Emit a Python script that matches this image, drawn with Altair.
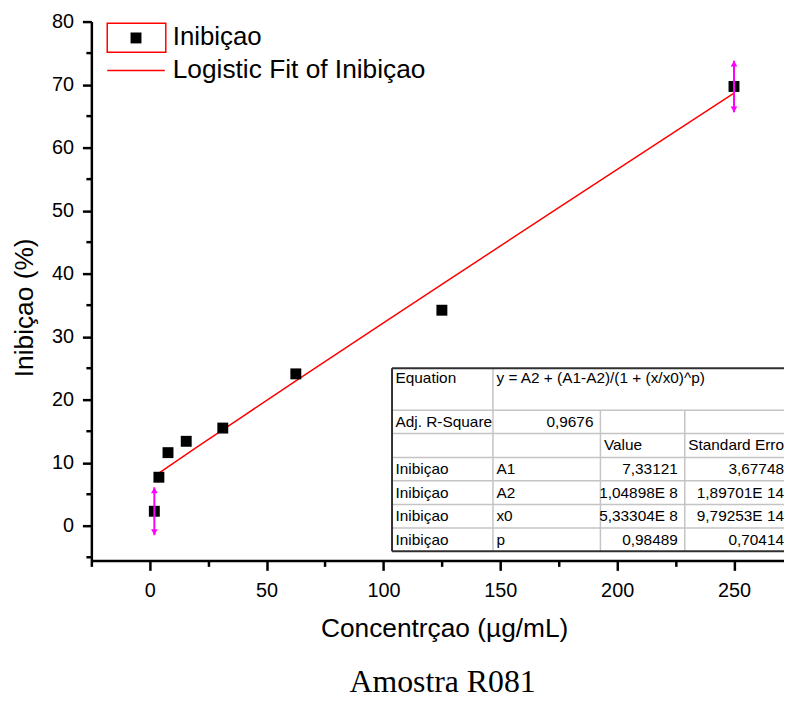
import altair as alt
import pandas as pd

# ---------------- data ----------------
conc = [1.95, 3.9, 7.8, 15.6, 31.25, 62.5, 125, 250]
inib = [2.3, 7.7, 11.6, 13.4, 15.5, 24.1, 34.2, 69.7]
inib_err = [3.8, 0, 0, 0, 0, 0, 0, 4.1]

fit_x = [1.95, 3.9, 10, 20, 40, 62.5, 100, 125, 175, 250]
fit_y = [7.85, 8.35, 9.91, 12.43, 17.41, 22.98, 32.19, 38.30, 50.48, 68.63]

x_ticks = [-25, 0, 25, 50, 75, 100, 125, 150, 175, 200, 225, 250]
y_major = [0, 10, 20, 30, 40, 50, 60, 70, 80]
y_minor = [-5, 5, 15, 25, 35, 45, 55, 65, 75]
x_domain = [-25, 271.4]
y_domain = [-5.5, 80]

series_name = "Inibiçao"
fit_name = "Logistic Fit of Inibiçao"
x_title = "Concentrçao (µg/mL)"
y_title = "Inibiçao (%)"
caption = "Amostra R081"

table_rows = [
    ["Equation", "y = A2 + (A1-A2)/(1 + (x/x0)^p)", "", ""],
    ["Adj. R-Square", "0,9676", "", ""],
    ["", "", "Value", "Standard Error"],
    ["Inibiçao", "A1", "7,33121", "3,67748"],
    ["Inibiçao", "A2", "1,04898E 8", "1,89701E 14"],
    ["Inibiçao", "x0", "5,33304E 8", "9,79253E 14"],
    ["Inibiçao", "p", "0,98489", "0,70414"],
]

# ---------------- layout ----------------
W, H = 698, 543
FONT = "Liberation Sans"
TCOL = [303, 404.7, 513, 598, 705]
TROW = [349.3, 391.7, 415, 439.3, 462.7, 486.7, 510.3, 533.7]
RED = "#ff0000"
MAG = "#ff00ff"

pts = pd.DataFrame({"conc": conc, "inib": inib, "err": inib_err})
fit = pd.DataFrame({"conc": fit_x, "inib": fit_y})
one = pd.DataFrame({"a": [0]})
ymin_df = pd.DataFrame({"v": y_minor})

xs = alt.Scale(domain=x_domain, nice=False, zero=False)
ys = alt.Scale(domain=y_domain, nice=False, zero=False)

x_axis = alt.Axis(
    values=x_ticks,
    labelExpr="datum.value % 50 === 0 ? datum.label : ''",
    tickSize={"condition": {"test": "datum.value % 50 === 0", "value": 10}, "value": 6},
    labelOverlap=False, labelFlush=False,
    labelPadding=10, labelFontSize=20, labelFont=FONT, labelColor="black",
    title=x_title, titleFont=FONT, titleFontSize=26.5, titleFontWeight="normal",
    titleColor="black", titleX=355.5, titleY=77, titleAlign="center",
    titleBaseline="alphabetic", grid=False,
)
y_axis = alt.Axis(
    values=y_major, tickSize=9,
    labelOverlap=False, labelFlush=False,
    labelPadding=9, labelFontSize=20, labelFont=FONT, labelColor="black",
    title=y_title, titleFont=FONT, titleFontSize=26.5, titleFontWeight="normal",
    titleColor="black", titleX=-59, titleY=288, titleAngle=270, titleAlign="center",
    titleBaseline="alphabetic", grid=False,
)

fit_line = alt.Chart(fit).mark_line(color=RED, strokeWidth=1.5).encode(
    x=alt.X("conc:Q", scale=xs, axis=x_axis),
    y=alt.Y("inib:Q", scale=ys, axis=y_axis),
)

# minor ticks of the y axis (short, no labels)
y_minor_ticks = alt.Chart(ymin_df).mark_rule(color="black", strokeWidth=2.5).encode(
    x=alt.value(-5), x2=alt.value(0), y=alt.Y("v:Q", scale=ys))

squares = alt.Chart(pts).mark_square(size=121, color="black", opacity=1).encode(
    x=alt.X("conc:Q", scale=xs),
    y=alt.Y("inib:Q", scale=ys),
)

err_base = alt.Chart(pts).transform_filter("datum.err > 0").transform_calculate(
    lo="datum.inib - datum.err", hi="datum.inib + datum.err"
)
err_rule = err_base.mark_rule(color=MAG, strokeWidth=2).encode(
    x=alt.X("conc:Q", scale=xs),
    y=alt.Y("lo:Q", scale=ys),
    y2="hi:Q",
)
err_top = err_base.mark_point(shape="triangle-up", filled=True, size=45, color=MAG,
                              opacity=1, yOffset=3).encode(
    x=alt.X("conc:Q", scale=xs), y=alt.Y("hi:Q", scale=ys))
err_bot = err_base.mark_point(shape="triangle-down", filled=True, size=45, color=MAG,
                              opacity=1, yOffset=-3).encode(
    x=alt.X("conc:Q", scale=xs), y=alt.Y("lo:Q", scale=ys))

# ---------------- legend (manual) ----------------
leg_box = alt.Chart(one).mark_rect(fill=None, stroke=RED, strokeWidth=1.5).encode(
    x=alt.value(16), x2=alt.value(75), y=alt.value(1.7), y2=alt.value(31))
leg_sq = alt.Chart(one).mark_square(size=121, color="black", opacity=1).encode(
    x=alt.value(45), y=alt.value(16.5))
leg_line = alt.Chart(one).mark_rule(color=RED, strokeWidth=1.5).encode(
    x=alt.value(16), x2=alt.value(74), y=alt.value(49.3))
leg_t1 = alt.Chart(one).mark_text(align="left", baseline="alphabetic", font=FONT,
                                  fontSize=26, color="black").encode(
    x=alt.value(82), y=alt.value(24), text=alt.value(series_name))
leg_t2 = alt.Chart(one).mark_text(align="left", baseline="alphabetic", font=FONT,
                                  fontSize=26.5, color="black").encode(
    x=alt.value(82), y=alt.value(56.5), text=alt.value(fit_name))

# ---------------- results table ----------------
cells = []
for r, row in enumerate(table_rows):
    for c, txt in enumerate(row):
        if not txt:
            continue
        right = txt[0].isdigit()
        x = TCOL[c + 1] - 7 if right else TCOL[c] + 3.5
        if r == 0:
            y = TROW[0] + 10
        else:
            y = (TROW[r] + TROW[r + 1]) / 2
        cells.append({"x": x, "y": y, "t": txt, "al": "right" if right else "left"})
cells = pd.DataFrame(cells)

segs = []
for i, yy in enumerate(TROW):
    outer = i in (0, len(TROW) - 1)
    segs.append({"x": TCOL[0], "x2": TCOL[-1], "y": yy, "y2": yy, "o": outer})
segs.append({"x": TCOL[1], "x2": TCOL[1], "y": TROW[0], "y2": TROW[-1], "o": False})
segs.append({"x": TCOL[2], "x2": TCOL[2], "y": TROW[1], "y2": TROW[-1], "o": False})
segs.append({"x": TCOL[3], "x2": TCOL[3], "y": TROW[1], "y2": TROW[-1], "o": False})
segs.append({"x": TCOL[0], "x2": TCOL[0], "y": TROW[0], "y2": TROW[-1], "o": True})
segs = pd.DataFrame(segs)

tbl_bg = alt.Chart(one).mark_rect(fill="white", clip=True).encode(
    x=alt.value(TCOL[0]), x2=alt.value(TCOL[-1]), y=alt.value(TROW[0]), y2=alt.value(TROW[-1]))
inner = alt.Chart(segs).transform_filter("!datum.o").mark_rule(
    color="#c4c4c4", strokeWidth=1.5, clip=True).encode(
    x=alt.X("x:Q", scale=None, axis=None), x2="x2:Q",
    y=alt.Y("y:Q", scale=None, axis=None), y2="y2:Q")
outer_l = alt.Chart(segs).transform_filter("datum.o").mark_rule(
    color="#303030", strokeWidth=2, clip=True).encode(
    x=alt.X("x:Q", scale=None, axis=None), x2="x2:Q",
    y=alt.Y("y:Q", scale=None, axis=None), y2="y2:Q")
txt_left = alt.Chart(cells).transform_filter("datum.al == 'left'").mark_text(
    align="left", baseline="middle", font=FONT, fontSize=15.5, color="black", clip=True).encode(
    x=alt.X("x:Q", scale=None, axis=None), y=alt.Y("y:Q", scale=None, axis=None), text="t:N")
txt_right = alt.Chart(cells).transform_filter("datum.al == 'right'").mark_text(
    align="right", baseline="middle", font=FONT, fontSize=15.5, color="black", clip=True).encode(
    x=alt.X("x:Q", scale=None, axis=None), y=alt.Y("y:Q", scale=None, axis=None), text="t:N")

cap = alt.Chart(one).mark_text(align="center", baseline="alphabetic", font="Liberation Serif",
                               fontSize=32, color="black").encode(
    x=alt.value(354), y=alt.value(676), text=alt.value(caption))

chart = alt.layer(
    fit_line, y_minor_ticks, squares, err_rule, err_top, err_bot,
    tbl_bg, inner, outer_l, txt_left, txt_right,
    leg_box, leg_sq, leg_line, leg_t1, leg_t2, cap,
).properties(
    width=W, height=H,
    autosize=alt.AutoSizeParams(type="none"),
    padding={"left": 84, "top": 11, "right": 0, "bottom": 140},
).configure_view(stroke=None).configure_axis(
    domainColor="black", domainWidth=2.5, tickColor="black", tickWidth=2.5,
)

chart.save("out.html", embed_options={"renderer": "svg", "actions": False})
